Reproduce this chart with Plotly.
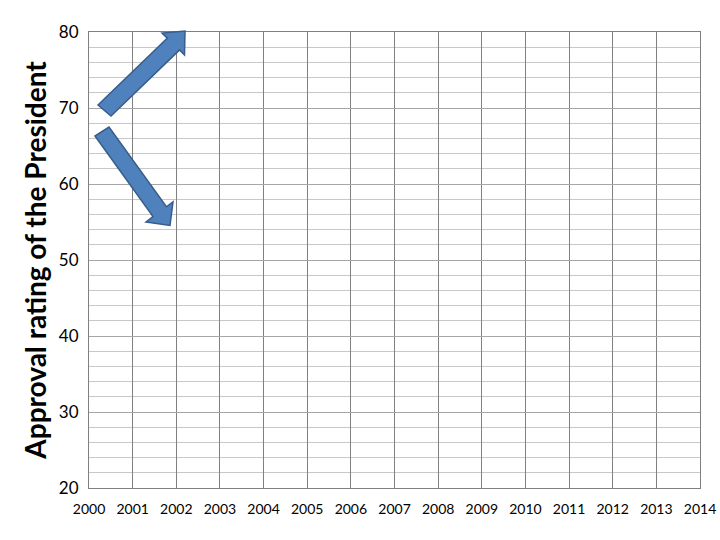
import plotly.graph_objects as go

# Data (the chart is an empty grid with two annotation arrows)
years = list(range(2000, 2015))
year_labels = [str(y) for y in years]
approval_ticks = [20, 30, 40, 50, 60, 70, 80]
approval = [None] * len(years)

# Arrow outlines (pixel positions on the 720x540 page)
arrow_up_px = [(98, 105), (167.4, 38.1), (162, 33), (185, 31), (184.5, 55), (179.6, 49.9), (111, 116)]
arrow_down_px = [(95, 136), (153, 216.6), (146, 222), (170, 225.5), (173, 202), (166.4, 206.8), (109, 127)]

W, H = 720, 540
# plot area on the page
PX0, PX1, PY0, PY1 = 89, 700, 32, 488
L, T = PX0, PY0
R = W - PX1
B = H - PY1


def to_paper_path(pts):
    parts = []
    for i, (px, py) in enumerate(pts):
        x = (px - PX0) / (PX1 - PX0)
        y = (PY1 - py) / (PY1 - PY0)
        parts.append(("M" if i == 0 else "L") + f"{x:.5f},{y:.5f}")
    return " ".join(parts) + " Z"


fig = go.Figure()
fig.add_trace(go.Scatter(x=years, y=approval, mode="lines", showlegend=False, hoverinfo="skip"))

for pts in (arrow_up_px, arrow_down_px):
    fig.add_shape(type="path", xref="paper", yref="paper", path=to_paper_path(pts),
                  fillcolor="#4F81BD", line=dict(color="#385D8A", width=1.5), layer="above")

fig.update_layout(
    width=W, height=H,
    margin=dict(l=L, r=R, t=T, b=B, autoexpand=False),
    paper_bgcolor="white", plot_bgcolor="white",
    font=dict(family="Lato, Carlito, Liberation Sans, sans-serif", color="black"),
    showlegend=False,
)
fig.update_xaxes(
    range=[2000, 2014], tickmode="array", tickvals=years, ticktext=year_labels,
    showgrid=True, gridcolor="#808080", gridwidth=1,
    showline=True, linecolor="#808080", linewidth=1, mirror=True,
    zeroline=False, ticks="", tickfont=dict(size=14), ticklabelstandoff=8,
)
fig.update_yaxes(
    range=[20, 80], tickmode="array", tickvals=approval_ticks,
    showgrid=True, gridcolor="#A6A6A6", gridwidth=1,
    minor=dict(dtick=2, showgrid=True, gridcolor="#C8C8C8", gridwidth=1),
    showline=True, linecolor="#808080", linewidth=1, mirror=True,
    zeroline=False, ticks="", tickfont=dict(size=17), ticklabelstandoff=6,
    title=dict(text="<b>Approval rating of the President</b>", font=dict(size=28), standoff=4),
)

fig.write_html(
    "out.html",
    config={"displayModeBar": False},
    post_script="document.body.style.margin='0';document.body.style.overflow='hidden';",
)
